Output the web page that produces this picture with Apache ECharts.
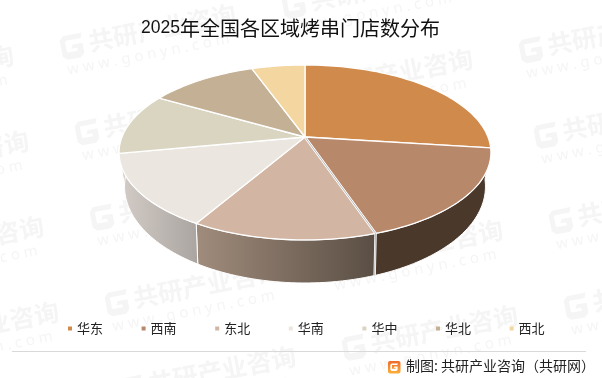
<!DOCTYPE html>
<html>
<head>
<meta charset="utf-8">
<style>
html, body { margin: 0; padding: 0; background: #fff; }
#main { width: 602px; height: 378px; }
</style>
<script src="https://cdn.jsdelivr.net/npm/echarts@6/dist/echarts.min.js"></script>
</head>
<body>
<div id="main"></div>
<script>
var regions = ['华东', '西南', '东北', '华南', '华中', '华北', '西北'];
// 占比(%),从图上读的估计值
var storeShare = [27, 17.8, 13.6, 13.6, 11.3, 11.2, 5.5];

var topColors = ['#D08A4B', '#B8886B', '#D2B6A3', '#ECE6E1', '#D9D5C1', '#C4B094', '#F4D6A0'];
var wallColors = [
    ['#5a3e22', '#5a3e22'],
    ['#4a382b', '#4a382b'],
    ['#a08c7c', '#5a4e44'],
    ['#d3ccc7', '#aba5a1'],
    ['#d8d5c8', '#d3ccc7'],
    ['#c4b094', '#c4b094'],
    ['#f4d6a0', '#f4d6a0']
];

var FONT = '"Noto Sans CJK SC", "Noto Sans", sans-serif';
var MARK_COLOR = '#f5f5f5';

// 透视参数:顶面和底面各一组
var topFace = { cx: 305, cy: 137, a: 183, b: 84.75, k: 0.177 };
var bottomFace = { cx: 305, cy: 167.7, a: 177, b: 92.8, k: 0.195 };

function project(face, deg) {
    var rad = deg * Math.PI / 180;
    var u = Math.sin(rad), v = Math.cos(rad);
    var w = 1 + face.k * v;
    return [face.cx + face.a * u / w, face.cy - face.b * v / w];
}

function arcPoints(face, from, to) {
    var pts = [];
    var steps = Math.max(2, Math.ceil(Math.abs(to - from) / 1.5));
    for (var i = 0; i <= steps; i++) {
        pts.push(project(face, from + (to - from) * i / steps));
    }
    return pts;
}

// 累计角度
var sliceAngles = [];
var total = storeShare.reduce(function (a, b) { return a + b; }, 0);
var acc = 0;
storeShare.forEach(function (val) {
    var start = acc / total * 360;
    acc += val;
    sliceAngles.push([start, acc / total * 360]);
});

function renderTop(params, api) {
    var from = api.value(0), to = api.value(1);
    var idx = params.seriesIndex - 1;
    var pts = [[topFace.cx, topFace.cy]].concat(arcPoints(topFace, from, to));
    var face = {
        type: 'polygon',
        shape: { points: pts },
        style: { fill: topColors[idx], stroke: '#fff', lineWidth: 1.3, lineJoin: 'round' }
    };
    if (idx !== 2) {
        return face;
    }
    // 西南和东北之间那条缝,中间有一点灰
    var seam = [[topFace.cx, topFace.cy], project(topFace, from), project(bottomFace, from)];
    return {
        type: 'group',
        children: [
            face,
            { type: 'polyline', shape: { points: seam }, style: { fill: null, stroke: '#fff', lineWidth: 2.4 } },
            { type: 'polyline', shape: { points: seam }, style: { fill: null, stroke: '#9c9c9c', lineWidth: 0.7 } }
        ]
    };
}

function renderWall(params, api) {
    // 只画朝前的一段
    var from = Math.max(api.value(0), 90), to = Math.min(api.value(1), 270);
    if (to <= from) {
        return null;
    }
    var upper = arcPoints(topFace, from, to);
    var lower = arcPoints(bottomFace, from, to).reverse();
    var pts = upper.concat(lower);
    var xs = pts.map(function (p) { return p[0]; });
    var c = wallColors[params.dataIndex];
    return {
        type: 'polygon',
        shape: { points: pts },
        style: {
            fill: new echarts.graphic.LinearGradient(Math.min.apply(null, xs), 0, Math.max.apply(null, xs), 0, [
                { offset: 0, color: c[0] },
                { offset: 1, color: c[1] }
            ], true),
            stroke: '#fff',
            lineWidth: 1
        }
    };
}

var seriesList = [{
    name: 'walls',
    type: 'custom',
    coordinateSystem: 'none',
    renderItem: renderWall,
    data: sliceAngles,
    silent: true,
    animation: false,
    z: 2
}];
regions.forEach(function (name, i) {
    seriesList.push({
        name: name,
        type: 'custom',
        coordinateSystem: 'none',
        renderItem: renderTop,
        itemStyle: { color: topColors[i] },
        data: [sliceAngles[i]],
        silent: true,
        animation: false,
        z: 3
    });
});

// 水印的 G 图标,本地坐标
var GLOGO = [[-12, -8], [-8, -12], [11, -12], [9, -7], [-6, -7], [-7, -6], [-7, 4], [-6, 5], [4, 5], [4, 2], [-2, 2], [0, -2], [10, -2], [10, 8], [6, 12], [-8, 12], [-12, 8]];
var marks = [];
for (var i = -2; i <= 3; i++) {
    for (var j = -3; j <= 5; j++) {
        var mx = 88 + 222 * i + 15 * j;
        var my = 132 - 41 * i + 85.5 * j;
        if (mx < -220 || mx > 640 || my < -40 || my > 410) {
            continue;
        }
        marks.push({
            type: 'group',
            x: mx,
            y: my,
            rotation: 11 * Math.PI / 180,
            silent: true,
            children: [
                {
                    type: 'polygon',
                    shape: { points: GLOGO },
                    style: { fill: MARK_COLOR }
                },
                {
                    type: 'text',
                    x: 16,
                    y: -14,
                    style: { text: '共研产业咨询', fill: MARK_COLOR, font: 'bold 25px ' + FONT }
                },
                {
                    type: 'text',
                    x: -10,
                    y: 15,
                    style: { text: 'w w w . g o n y n . c o m', fill: MARK_COLOR, font: '15px "Noto Sans", sans-serif' }
                }
            ]
        });
    }
}

var footer = [
    {
        type: 'line',
        shape: { x1: 12, y1: 351.5, x2: 586, y2: 351.5 },
        style: { stroke: '#d9d9d9', lineWidth: 1 },
        z: 5
    },
    {
        type: 'rect',
        shape: { x: 388, y: 361, width: 12.5, height: 12.5, r: 2 },
        style: {
            fill: new echarts.graphic.LinearGradient(0, 0, 0, 1, [
                { offset: 0, color: '#ee6a2a' },
                { offset: 1, color: '#fbb03a' }
            ])
        },
        z: 5
    },
    {
        type: 'polygon',
        x: 394.3,
        y: 367.2,
        scaleX: 0.33,
        scaleY: 0.31,
        shape: { points: GLOGO },
        style: { fill: '#fff' },
        z: 6
    },
    {
        type: 'text',
        x: 406,
        y: 358.5,
        style: { text: '制图: 共研产业咨询（共研网）', fill: '#222', font: '14px ' + FONT },
        z: 5
    }
];

var myChart = echarts.init(document.getElementById('main'), null, { renderer: 'canvas' });

var option = {
    backgroundColor: '#fff',
    animation: false,
    title: {
        left: 136,
        top: 13,
        text: '{n|2025}{c|年全国各区域烤串门店数分布}',
        textStyle: {
            rich: {
                n: { fontSize: 17.5, fontWeight: 'normal', fontFamily: 'Liberation Sans', color: '#111' },
                c: { fontSize: 20, fontWeight: 'normal', fontFamily: FONT, color: '#111' }
            }
        }
    },
    legend: {
        data: regions,
        left: 63,
        top: 317,
        icon: 'rect',
        itemWidth: 4,
        itemHeight: 4,
        itemGap: 38.6,
        selectedMode: false,
        textStyle: { fontSize: 13, fontFamily: FONT, color: '#222' }
    },
    graphic: { elements: marks.concat(footer) },
    series: seriesList
};

myChart.setOption(option);
</script>
</body>
</html>
